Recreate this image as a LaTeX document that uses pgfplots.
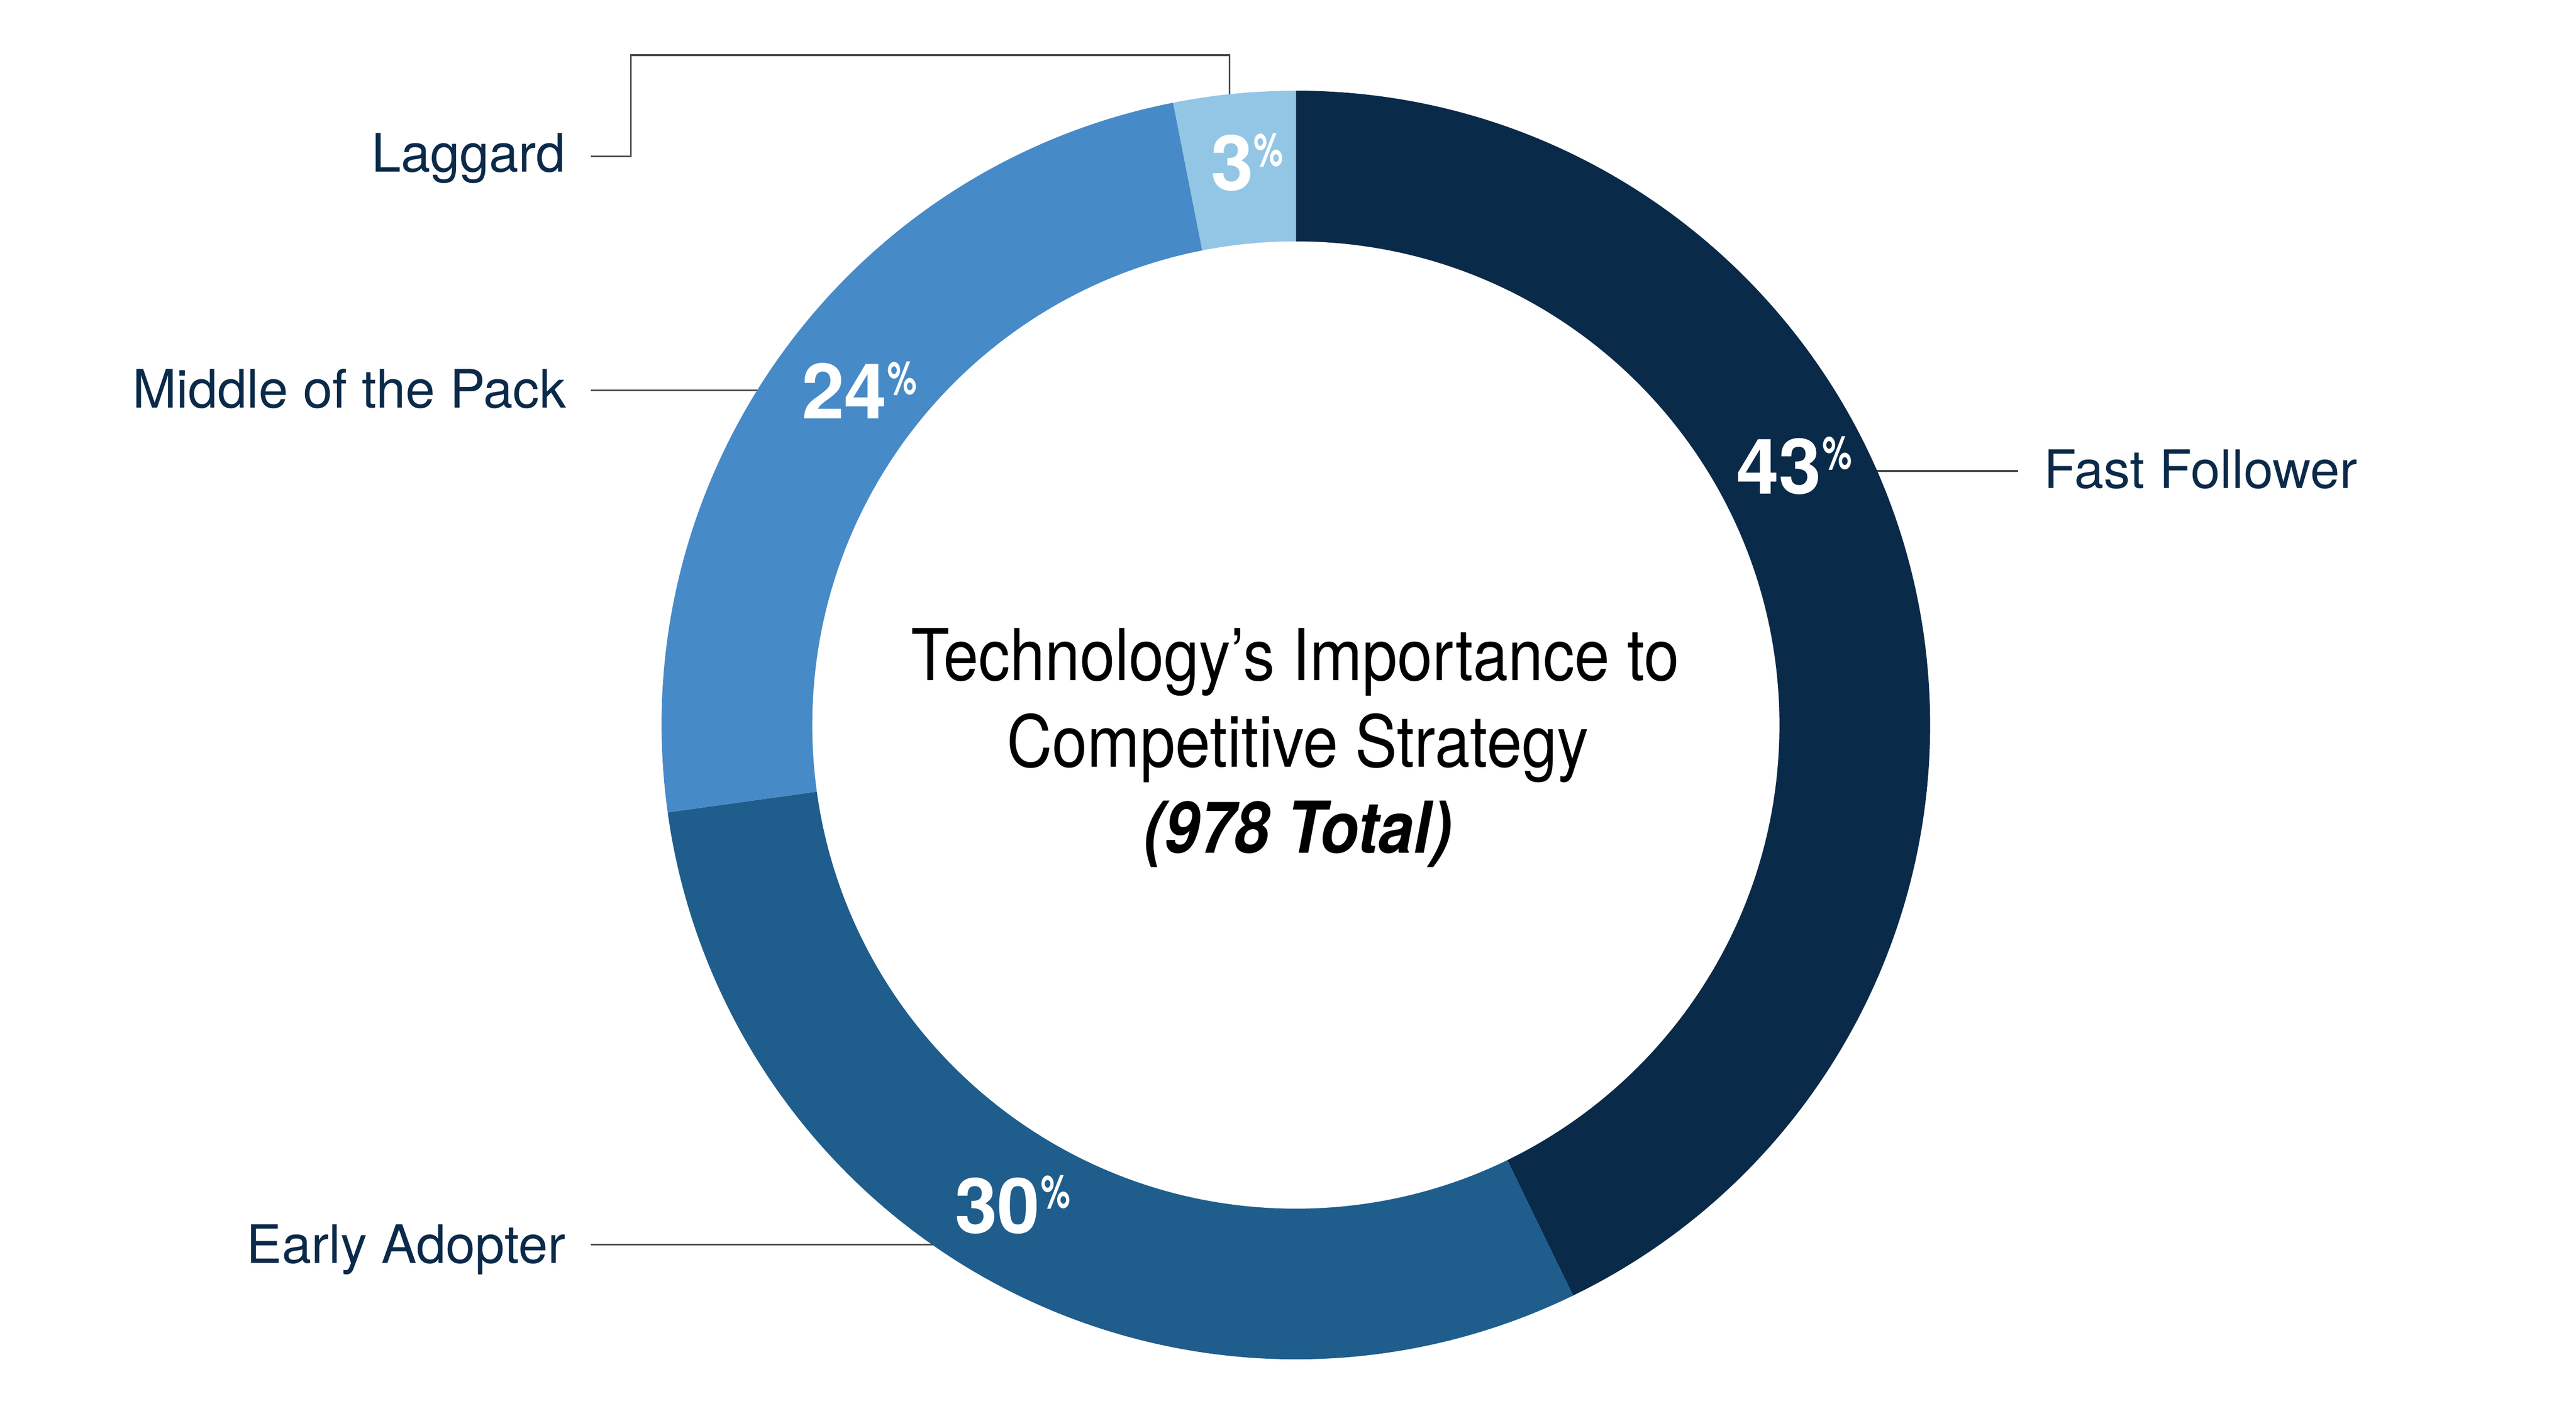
\documentclass[border=0pt]{standalone}
\usepackage{pgfplots}
\usepackage{pgfplotstable}
\pgfplotsset{compat=1.18}
\usepackage{fontspec}
\setmainfont{TeX Gyre Heros}
\newfontfamily\condfont[FakeStretch=0.88]{TeX Gyre Heros}
\newfontfamily\pctfont[FakeStretch=0.72]{TeX Gyre Heros}

\definecolor{cFast}{HTML}{0A2A49}
\definecolor{cEarly}{HTML}{1F5D8C}
\definecolor{cMiddle}{HTML}{478AC8}
\definecolor{cLaggard}{HTML}{93C6E5}
\definecolor{labelnavy}{HTML}{0B2A4A}
\definecolor{leadergray}{HTML}{4D4D4D}

% share of 978 respondents, clockwise from 12 o'clock
\pgfplotstableread{
share color
42.8 cFast
30.0 cEarly
24.1 cMiddle
3.1 cLaggard
}\donutdata

\newcommand\catlabel{\fontsize{10.2}{12}\selectfont\color{labelnavy}}
\newcommand\pctnum{\fontsize{14.8}{16}\selectfont\bfseries\color{white}}
\newcommand\pctsym{\fontsize{8.9}{10}\selectfont\pctfont\bfseries\color{white}}

\begin{document}
\begin{tikzpicture}
\begin{axis}[
    at={(0,0)}, anchor=south west,
    width=6.872in, height=3.736in,
    scale only axis,
    xmin=0, xmax=6872,
    ymin=0, ymax=3736,
    hide axis,
    clip=false,
]
\path (rel axis cs:0,0) rectangle (rel axis cs:1,1);

% leader lines (the ring covers their inner ends)
\draw[leadergray, line width=0.36pt] (4950,2480) -- (5384,2480);
\draw[leadergray, line width=0.36pt] (1577,2695) -- (2060,2695);
\draw[leadergray, line width=0.36pt] (1577,416) -- (2520,416);
\draw[leadergray, line width=0.36pt]
    (1577,3319) -- (1683,3319) -- (1683,3589) -- (3280,3589) -- (3280,3470);

% donut ring
\pgfplotsextra{%
  \xdef\angA{90}%
  \foreach \i in {0,...,3}{%
    \pgfplotstablegetelem{\i}{share}\of\donutdata \let\share\pgfplotsretval
    \pgfplotstablegetelem{\i}{color}\of\donutdata \let\segcol\pgfplotsretval
    \pgfmathsetmacro\angB{\angA-3.6*\share}%
    \fill[\segcol] (axis cs:3457,1802) -- ++(\angA:1.692in)
        arc[start angle=\angA, end angle=\angB, radius=1.692in] -- cycle;
    \xdef\angA{\angB}%
  }%
  \fill[white] (axis cs:3457,1802) circle[radius=1.290in];
}

% percentages
\node[anchor=base west, inner sep=0] at (4629,2419) {\pctnum 43};
\node[anchor=base west, inner sep=0] at (4859,2484) {\pctsym\%};
\node[anchor=base west, inner sep=0] at (2544,446) {\pctnum 30};
\node[anchor=base west, inner sep=0] at (2774,514) {\pctsym\%};
\node[anchor=base west, inner sep=0] at (2136,2619) {\pctnum 24};
\node[anchor=base west, inner sep=0] at (2364,2684) {\pctsym\%};
\node[anchor=base west, inner sep=0] at (3228,3228) {\pctnum 3};
\node[anchor=base west, inner sep=0] at (3342,3293) {\pctsym\%};

% category names
\node[anchor=base west, inner sep=0] at (5450,2433) {\catlabel Fast Follower};
\node[anchor=base east, inner sep=0] at (1511,3277) {\catlabel Laggard};
\node[anchor=base east, inner sep=0] at (1513,2648) {\catlabel Middle of the Pack};
\node[anchor=base east, inner sep=0] at (1511,367) {\catlabel Early Adopter};

% centre title
\node[anchor=base, inner sep=0] at (3455,1921)
    {\fontsize{13.8}{16}\selectfont\condfont Technology’s Importance to};
\node[anchor=base, inner sep=0] at (3462,1690)
    {\fontsize{13.8}{16}\selectfont\condfont Competitive Strategy};
\node[anchor=base, inner sep=0] at (3462,1461)
    {\fontsize{13.8}{16}\selectfont\condfont\bfseries\itshape (978 Total)};
\end{axis}
\end{tikzpicture}
\end{document}
